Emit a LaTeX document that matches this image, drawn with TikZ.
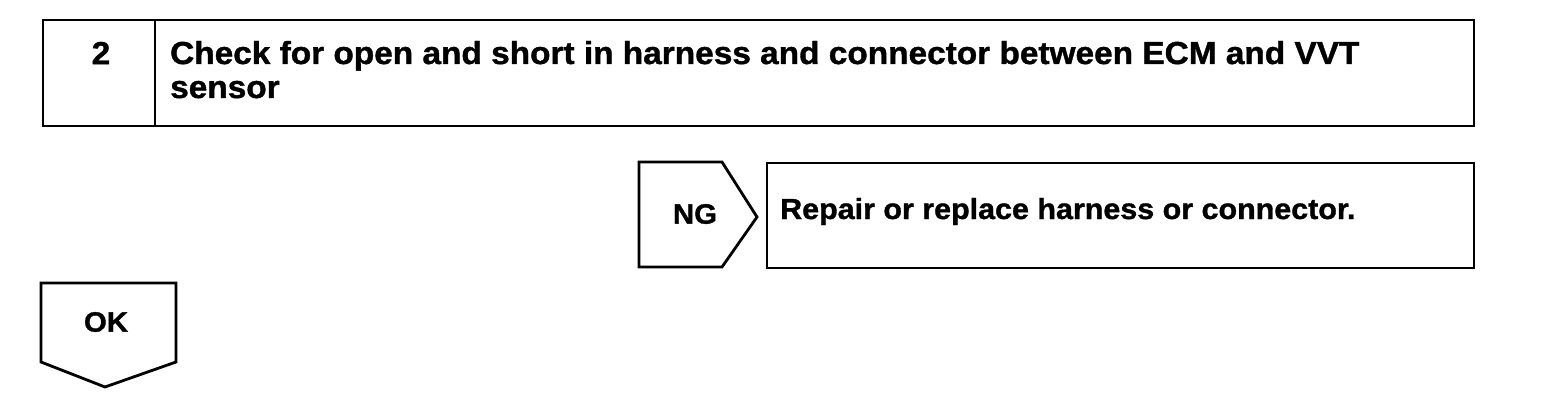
\documentclass[tikz,border=0pt]{standalone}
\usepackage{fontspec}
\setmainfont{Liberation Sans}
\newfontfamily\hv[FakeStretch=1.05,FakeBold=1.2]{Liberation Sans}
\begin{document}
\begin{tikzpicture}[x=1pt,y=-1pt,
  frame/.style={draw, line width=2.8pt, line join=miter},
  big/.style={font=\hv\fontsize{31.8}{34}\selectfont\bfseries, inner sep=0pt},
  mid/.style={font=\hv\fontsize{29}{30}\selectfont\bfseries, inner sep=0pt},
  tag/.style={font=\hv\fontsize{28}{30}\selectfont\bfseries, inner sep=0pt}]
\useasboundingbox[fill=white] (0,0) rectangle (1568,406);
% title box
\coordinate (tl) at (43,20);
\coordinate (br) at (1474,126);
\draw[frame] (tl) rectangle (br);
\coordinate (dtop) at (155,20);
\coordinate (dbot) at (155,126);
\draw[frame] (dtop) -- (dbot);
\node[big] (num) at (101,53) {2};
\node[big, anchor=base west] (title1) at (170,64) {Check for open and short in harness and connector between ECM and VVT};
\node[big, anchor=base west] (title2) at (170,98) {sensor};
% NG tag
\coordinate (ng1) at (639,162);
\coordinate (ng2) at (722,162);
\coordinate (ng3) at (757,217);
\coordinate (ng4) at (722,267);
\coordinate (ng5) at (639,267);
\draw[frame] (ng1) -- (ng2) -- (ng3) -- (ng4) -- (ng5) -- cycle;
\node[tag] (ng) at (695,214) {NG};
% repair box
\coordinate (r1) at (767,163);
\coordinate (r2) at (1474,268);
\draw[frame] (r1) rectangle (r2);
\node[mid, anchor=base west] (repair) at (780,219) {Repair or replace harness or connector.};
% OK tag
\coordinate (ok1) at (41,283);
\coordinate (ok2) at (176,283);
\coordinate (ok3) at (176,362);
\coordinate (ok4) at (105,387);
\coordinate (ok5) at (41,362);
\draw[frame] (ok1) -- (ok2) -- (ok3) -- (ok4) -- (ok5) -- cycle;
\node[tag] (ok) at (106,322) {OK};
\end{tikzpicture}
\end{document}
